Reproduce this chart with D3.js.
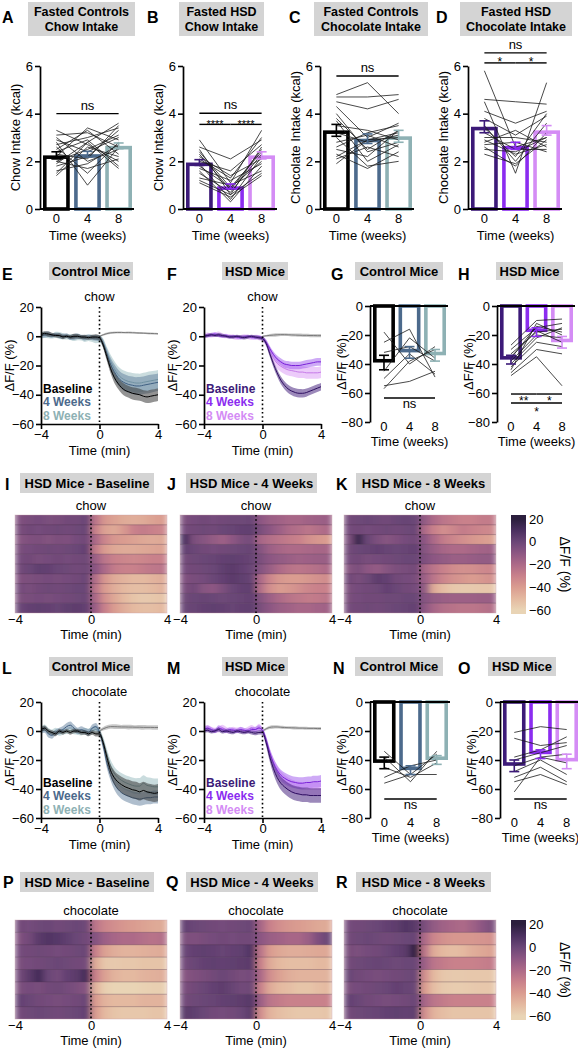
<!DOCTYPE html>
<html><head><meta charset="utf-8">
<script src="https://cdn.jsdelivr.net/npm/d3@7"></script>
<style>
body{margin:0;background:#fff;}
svg{font-family:"Liberation Sans",Arial,Helvetica,sans-serif;display:block;}
</style></head><body>
<svg id="fig" width="578" height="1050"></svg>
<script>
// ---------------- DATA ----------------
const weeks = ['0','4','8'];
const ctrlColors = ['#000000','#4c6a8c','#8eb1b4'];
const hsdColors = ['#3c1a78','#8b2cf0','#d48cf5'];

// A-D intake (kcal)
const aMeans = [2.25,2.3,2.65], aSems = [0.15,0.12,0.12];
const aMice = [[2.0,2.5,3.1],[2.5,3.3,2.3],[3.3,2.7,2.0],[1.5,2.8,3.6],[2.8,1.0,2.6],[2.2,3.4,2.9],[1.8,2.2,3.3],[3.0,2.0,2.5],[2.4,2.9,1.8],[1.6,1.9,2.7],[2.7,3.0,3.4],[2.0,1.7,2.1],[2.9,2.4,3.0],[1.4,2.6,2.2],[2.6,1.5,2.8],[3.1,3.2,2.6],[2.3,2.1,3.5],[1.9,2.8,1.7]];
const bMeans = [1.95,0.95,2.25], bSems = [0.12,0.1,0.15];
const bMice = [[2.9,1.1,3.3],[2.6,2.1,2.9],[2.5,0.6,2.6],[2.3,0.8,2.5],[2.1,1.3,3.0],[1.9,0.4,2.2],[1.8,0.9,2.0],[1.6,0.3,1.8],[1.5,0.7,2.3],[1.3,1.0,1.6],[1.1,0.5,1.4],[2.0,1.6,2.7],[1.7,1.2,1.9],[2.4,0.9,2.4],[1.2,0.6,1.5],[2.2,1.4,2.1]];
const cMeans = [3.3,2.95,3.05], cSems = [0.25,0.2,0.25];
const cMice = [[4.8,5.3,4.0],[4.7,4.7,4.8],[4.5,4.2,4.6],[4.3,3.0,3.6],[3.8,2.5,3.3],[3.5,3.3,2.9],[3.2,2.8,3.1],[3.0,1.8,2.0],[2.8,3.1,2.6],[2.5,2.2,3.3],[2.3,1.7,2.4],[2.1,2.6,2.2],[1.9,2.9,3.0],[3.7,2.0,2.7],[2.6,3.2,3.5],[4.0,2.4,2.8],[2.2,2.9,3.2]];
const dMeans = [3.45,2.65,3.3], dSems = [0.25,0.15,0.2];
const dMice = [[5.8,2.6,3.0],[4.6,4.5,4.4],[4.5,1.5,5.3],[4.1,3.6,4.1],[3.8,3.1,3.9],[3.5,2.0,3.6],[3.2,2.5,2.5],[3.0,3.0,2.8],[2.9,2.3,2.7],[2.7,2.8,2.4],[2.6,1.8,3.2],[2.5,2.4,3.0],[2.8,3.3,2.6],[3.4,2.2,4.0],[2.3,1.9,2.9]];
const intakeTicks = [0,2,4,6];

// G,H,N,O peak dF/F (%)
const gMeans = [-39,-32,-34], gSems = [5,4,4];
const gMice = [[-18,-40,-28],[-25,-16,-49],[-32,-28,-38],[-45,-22,-36],[-50,-33,-47],[-55,-52,-45],[-57,-38,-30]];
const hMeans = [-37,-18,-25], hSems = [3,3,4];
const hMice = [[-27,-10,-9],[-30,-15,-12],[-33,-18,-16],[-36,-14,-18],[-38,-20,-22],[-40,-22,-15],[-42,-25,-28],[-44,-12,-20],[-46,-30,-33],[-48,-35,-55],[-35,-17,-25]];
const nMeans = [-42,-47,-40], nSems = [4,3,3];
const nMice = [[-34,-50,-36],[-38,-55,-34],[-52,-44,-40],[-56,-50,-50],[-45,-52,-42]];
const oMeans = [-44,-36,-41], oSems = [4,3,5];
const oMice = [[-21,-17,-19],[-25,-30,-28],[-38,-33,-24],[-44,-38,-36],[-48,-40,-50],[-52,-45,-55],[-55,-50,-57],[-62,-38,-42],[-40,-35,-30]];
const dffTicks = [-80,-60,-40,-20,0];

// E,F,L,M time courses (min, dF/F %)
const T = [-4,-3.75,-3.5,-3.25,-3,-2.75,-2.5,-2.25,-2,-1.75,-1.5,-1.25,-1,-0.75,-0.5,-0.25,0,0.25,0.5,0.75,1,1.25,1.5,1.75,2,2.25,2.5,2.75,3,3.25,3.5,3.75,4];
const Tpost = [0,0.25,0.5,0.75,1,1.25,1.5,1.75,2,2.25,2.5,2.75,3,3.25,3.5,3.75,4];
const eBase = [1,2,1.5,1,0.5,0.5,-0.5,0,-0.5,0,0,-0.5,-0.5,-1,-0.5,-0.5,-1,-6,-14,-22,-28,-32,-35,-37,-38,-39,-39.5,-40,-41,-41.5,-41,-40.5,-40];
const eBaseS = [1.2,1.5,1.8,1.4,1.3,1.6,1.5,1.2,1.4,1.7,1.5,1.3,1.6,1.4,1.5,1.8,1.6,2.2,2.8,3.2,3.6,3.8,4,4.1,4,4.2,4.3,4.1,4,4.2,4.4,4.3,4.2];
const e4 = [0.5,1,1.5,0.5,1,0.5,0,0.5,-1,-0.5,0,-0.5,-1,-0.5,-1,-1,-1.5,-5,-12,-19,-24,-28,-30.5,-32,-33,-33.5,-34,-34,-33.5,-33,-32.5,-32,-31.5];
const e4S = [1.5,1.8,2,1.6,1.4,1.8,1.7,1.5,1.6,2,1.8,1.5,1.9,1.7,1.8,2.1,2,2.8,3.6,4.4,5,5.4,5.6,5.8,5.8,6,6,6.1,6,6.2,6.1,6,6];
const e8 = [0.5,1,0.5,0,1,0.5,0,-0.5,-0.5,-1,-0.5,-1,-1.5,-1,-1.5,-2,-2,-4.5,-11,-17,-22,-26,-28.5,-30,-31,-31.5,-32,-32,-31.5,-31,-30.5,-30,-29.5];
const e8S = [2,2.2,1.8,1.6,2,2.4,2.1,1.8,2,2.3,2.2,1.9,2.4,2.2,2.5,2.8,2.5,3,3.8,4.5,5.2,5.6,6,6.2,6.3,6.4,6.5,6.4,6.5,6.6,6.5,6.4,6.5];
const eGray = [0,1,1.8,2.3,2.5,2.6,2.6,2.5,2.5,2.4,2.3,2.2,2.1,2,1.9,1.8,1.7];
const eGrayS = [0.5,0.6,0.7,0.7,0.8,0.7,0.7,0.6,0.7,0.6,0.6,0.7,0.6,0.6,0.7,0.6,0.6];

const fBase = [0,0.5,1,0.5,1,0.5,0,-0.5,-0.5,0,-0.5,-1,-0.5,0,-0.5,-1,-1.5,-5,-12,-19,-25,-30,-33.5,-36,-37.5,-38.5,-39,-39,-38.5,-37.5,-36.5,-35.5,-34.5];
const fBaseS = [1,1.2,1.1,1,1.3,1.2,1,1.1,1.2,1,1.1,1.3,1.2,1,1.1,1.2,1.3,1.6,2,2.3,2.5,2.6,2.7,2.8,2.8,2.9,2.9,2.8,2.8,2.7,2.7,2.6,2.6];
const f4 = [0,0.5,1,1.5,0.5,0,0.5,-0.5,0,-0.5,-1,-0.5,0,-0.5,-1,-0.5,-1.5,-4,-8.5,-12.5,-15.5,-17.5,-19,-19.5,-20,-20,-20,-19.5,-19,-18.5,-18,-17.5,-17.5];
const f4S = [1,1.2,1.4,1.3,1.1,1,1.2,1.1,1,1.2,1.3,1.1,1,1.2,1.3,1.2,1.3,1.6,1.9,2.1,2.3,2.4,2.5,2.5,2.6,2.6,2.6,2.6,2.7,2.6,2.6,2.6,2.6];
const f8 = [0.5,1,0.5,1,1.5,0.5,0,0,-0.5,-1,-0.5,0,-0.5,-1,-0.5,-1,-2,-4.5,-10,-15,-18.5,-20.5,-22,-23,-23.5,-24,-24.5,-24.5,-25,-25,-25,-25,-24.5];
const f8S = [1.5,1.6,1.4,1.5,1.7,1.5,1.4,1.3,1.5,1.6,1.4,1.3,1.5,1.6,1.5,1.7,1.8,2.2,2.8,3.2,3.5,3.7,3.8,3.9,3.9,4,4,4,4,4,4,4,4];
const fGray = [0,0.3,0.6,0.8,1,1.1,1.1,1,0.9,0.8,0.7,0.6,0.6,0.5,0.5,0.4,0.4];
const fGrayS = [0.3,0.6,0.9,1.1,1.1,1,0.9,0.9,1,1,1.1,1.1,1.1,1.1,1.1,1.1,1.1];

const lBase = [1,2,0,-1,-2,0,-1,0,-1,0,0,-1,-1,-2,-1,-2,-2,-8,-18,-27,-32,-35,-37,-38.5,-39.5,-40.5,-41,-42,-41,-42,-42.5,-43,-42.5];
const lBaseS = [1.5,1.8,1.6,1.5,1.7,1.6,1.5,1.4,1.6,1.5,1.4,1.6,1.5,1.7,1.6,1.8,1.8,2.5,3.5,4.2,4.8,5.2,5.5,5.6,5.8,5.9,6,6,6,6,6,6,6];
const l4 = [0,1,-2,-3,-1,0,1,3,4,2,0,1,0,-1,2,3,-1,-10,-22,-30,-36,-40,-42.5,-44,-45,-46,-46.5,-47,-46.5,-46,-46,-45.5,-45.5];
const l4S = [2,2.2,2.5,2.3,2,2.2,2.4,2.5,2.6,2.4,2.2,2.3,2.2,2.3,2.5,2.6,2.4,3,3.6,4,4.2,4.3,4.4,4.4,4.5,4.5,4.5,4.5,4.5,4.5,4.5,4.5,4.5];
const l8 = [1,2,0,-1,0,-1,-0.5,0,0.5,0,-0.5,-1,0,-0.5,0,1,-1,-7,-16,-24,-29,-32,-34,-35.5,-36.5,-37.5,-38,-38,-36,-37.5,-38,-38.5,-38.5];
const l8S = [2,2.4,2.1,2,2.2,2.3,2,2.1,2.3,2.2,2,2.1,2.3,2.2,2.4,2.6,2.4,3,3.8,4.3,4.6,4.8,5,5.2,5.3,5.4,5.5,5.6,5.5,5.6,5.7,5.7,5.7];
const lGray = [0,1.5,2.5,3,3,2.9,2.8,2.8,2.7,2.7,2.6,2.6,2.5,2.5,2.5,2.4,2.4];
const lGrayS = [1,1.2,1.4,1.5,1.6,1.5,1.4,1.5,1.6,1.5,1.4,1.5,1.6,1.5,1.4,1.5,1.5];

const mBase = [0,0.5,-0.5,0,1,-0.5,0,-0.5,-1,0,-0.5,-1,-0.5,-1,-1.5,-1,-1,-8,-18,-26,-32,-36,-38.5,-40.5,-42,-43,-43.5,-44,-44,-44.5,-44.5,-44.5,-44.5];
const mBaseS = [1.2,1.4,1.3,1.2,1.5,1.3,1.2,1.4,1.3,1.2,1.4,1.3,1.2,1.4,1.5,1.4,1.5,2.5,3.2,3.8,4.2,4.5,4.7,4.8,4.9,5,5,5,5,5,5,5,5];
const m4 = [1,2,1,0,2,1,0,1,0.5,0,1,0.5,0,1,1,2,0.5,-6,-15,-22,-27,-30.5,-32.5,-34,-35,-35.5,-36,-36,-35.5,-35.5,-35,-35,-34.5];
const m4S = [1.5,1.8,1.6,1.5,1.9,1.7,1.5,1.6,1.5,1.6,1.7,1.6,1.5,1.7,1.8,2,1.8,2.4,3,3.4,3.6,3.8,3.9,4,4,4,4.1,4.1,4,4.1,4.2,4.2,4.2];
const m8 = [1.5,2,1,0.5,1,2,1,0,1,0.5,1,0,1,2,1,2.5,0,-7,-16,-23,-28,-32,-34.5,-36.5,-38,-39,-39.5,-40,-40,-40,-40,-40,-40];
const m8S = [2,2.2,2,1.8,2,2.3,2,1.8,2,1.9,2,1.8,2,2.2,2,2.5,2.2,2.8,3.4,3.8,4,4.2,4.3,4.4,4.5,4.5,4.5,4.5,4.5,4.5,4.5,4.5,4.5];
const mGray = [0,1.5,2.5,2.8,2.8,2.6,2.4,2.3,2.2,2.1,2,2,1.9,1.8,1.8,1.7,1.7];
const mGrayS = [0.8,1,1.2,1.2,1.1,1,1.1,1,1,1.1,1,1,1.1,1,1,1,1];

// Heatmaps: column start times (0.5 min bins), rows = mice
const hmTimes = [-4,-3.5,-3,-2.5,-2,-1.5,-1,-0.5,0,0.5,1,1.5,2,2.5,3,3.5];
const hmI = [
 [-6,-4,-3,-5,-4,-2,-2,0,-25,-38,-42,-45,-46,-45,-42,-40],
 [-4,-2,-3,-2,-1,-2,-1,0,-30,-42,-44,-38,-30,-28,-30,-32],
 [-8,-6,-5,-7,-5,-6,-3,-2,-20,-32,-38,-40,-42,-44,-45,-44],
 [-4,-3,-2,-1,-2,-1,0,2,-28,-40,-44,-45,-45,-44,-43,-42],
 [-3,-2,-4,-3,-2,-3,-2,-1,-15,-25,-30,-32,-33,-32,-30,-30],
 [-2,0,3,2,0,-1,-2,-1,-10,-20,-28,-30,-30,-28,-26,-25],
 [-6,-5,-4,-3,-4,-3,-2,0,-22,-38,-45,-48,-50,-50,-48,-46],
 [-3,-4,-2,-1,-2,-1,0,0,-25,-40,-46,-50,-52,-52,-50,-48],
 [-5,-4,-3,-4,-3,-2,-1,0,-20,-36,-44,-50,-54,-56,-55,-54],
 [0,2,3,2,1,3,4,2,-15,-30,-40,-46,-50,-52,-52,-50]];
const hmJ = [
 [-5,-3,-2,-3,-2,-1,-1,0,-10,-14,-16,-18,-18,-16,-15,-14],
 [-3,-2,-1,-2,0,1,2,3,-5,-10,-15,-20,-22,-25,-22,-20],
 [10,-5,-8,-12,-15,-10,-5,-3,-18,-22,-25,-28,-30,-35,-38,-40],
 [2,0,-2,-3,-2,-1,0,1,-8,-15,-18,-20,-20,-19,-18,-18],
 [-2,-1,0,1,2,3,2,1,-5,-10,-12,-14,-16,-15,-14,-14],
 [-3,-2,-1,0,3,5,2,0,-8,-14,-20,-24,-25,-24,-22,-20],
 [-6,-4,-3,0,2,5,3,1,-20,-32,-38,-40,-40,-38,-36,-34],
 [-4,-2,-8,-10,-5,0,2,3,-22,-35,-40,-38,-35,-32,-30,-30],
 [-1,0,1,0,-1,0,1,2,-8,-15,-20,-24,-26,-28,-27,-25],
 [0,1,2,3,2,1,2,3,-5,-10,-14,-16,-18,-18,-17,-16]];
const hmK = [
 [-2,-1,0,-1,-2,0,1,0,-12,-20,-25,-28,-30,-30,-28,-28],
 [-3,-2,-3,-2,-1,-2,-1,0,-20,-30,-35,-32,-28,-30,-32,-33],
 [-5,15,0,-5,-8,-6,-3,-2,-10,-20,-28,-32,-35,-38,-40,-42],
 [-2,0,1,2,1,0,1,2,-8,-14,-18,-20,-20,-18,-17,-16],
 [-3,-2,-4,-3,-2,-1,0,0,-6,-10,-12,-14,-14,-13,-12,-12],
 [-8,-5,-10,-12,-8,-5,-4,-2,-18,-25,-30,-34,-36,-35,-33,-32],
 [-2,-4,-1,4,2,-2,-3,-4,-15,-25,-32,-36,-38,-40,-38,-36],
 [-5,-3,-2,-1,2,0,-2,-3,-12,-45,-52,-55,-56,-56,-55,-55],
 [-4,-3,-2,-2,-1,-1,0,0,-8,-12,-14,-15,-15,-15,-14,-14],
 [-3,-2,-1,-2,-1,0,1,2,-10,-18,-22,-24,-25,-25,-24,-22]];
const hmP = [
 [-2,-3,-1,0,-2,-1,0,-1,-25,-32,-35,-38,-40,-42,-44,-45],
 [-6,-2,5,8,6,3,0,-2,-8,-15,-18,-20,-20,-22,-24,-22],
 [-3,-2,-1,-2,-3,-2,-1,0,-30,-42,-46,-48,-48,-47,-46,-45],
 [-4,-3,-2,-1,0,-1,-2,-3,-45,-55,-56,-55,-55,-54,-54,-54],
 [-2,5,12,0,-3,2,5,12,-30,-42,-48,-50,-50,-48,-47,-46],
 [-5,-3,-4,-2,-1,-3,-5,-8,-48,-58,-60,-60,-60,-59,-58,-58],
 [2,0,-2,-3,-4,-3,-2,0,-40,-48,-50,-50,-50,-48,-48,-48],
 [-2,-1,0,-1,-2,-1,0,2,-40,-50,-54,-55,-55,-55,-54,-54]];
const hmQ = [
 [2,0,-1,-2,-3,-2,-1,0,-18,-30,-35,-38,-40,-42,-44,-45],
 [-5,-6,-4,-3,-2,-3,-2,-2,-10,-14,-16,-18,-18,-14,-6,0],
 [0,2,3,2,1,2,3,8,-25,-40,-44,-46,-46,-45,-44,-44],
 [-2,0,2,3,2,3,4,5,-30,-45,-50,-52,-52,-52,-50,-50],
 [-8,-6,-4,-2,0,-2,-4,-3,-20,-35,-42,-46,-48,-48,-48,-48],
 [-4,-2,0,2,4,1,-2,-1,-30,-45,-50,-52,-54,-54,-52,-50],
 [-2,-1,0,1,2,3,4,6,-15,-25,-28,-30,-30,-30,-30,-30],
 [5,3,0,-2,-3,-2,0,5,-35,-48,-52,-54,-55,-55,-55,-54]];
const hmR = [
 [-3,-2,-1,0,2,4,8,5,-5,-12,-16,-18,-20,-16,-10,-5],
 [-2,-1,0,-1,-2,-1,0,1,-20,-32,-36,-38,-38,-38,-37,-36],
 [-4,-5,-3,-2,0,2,5,20,-25,-45,-50,-52,-50,-46,-44,-42],
 [-2,-1,0,1,0,-1,0,0,-15,-25,-28,-30,-30,-30,-29,-28],
 [0,-2,-3,-4,-3,-2,-1,0,-35,-50,-55,-56,-56,-55,-55,-55],
 [-4,-3,-2,-1,0,2,1,0,-40,-52,-56,-57,-57,-56,-55,-55],
 [2,0,-2,-3,-4,-3,-2,0,-18,-25,-28,-30,-30,-30,-30,-30],
 [-2,-1,0,1,2,3,2,3,-35,-48,-52,-54,-54,-54,-54,-54]];
const cmapVals = [20,10,0,-10,-20,-30,-40,-50,-60];
const cmapCols = ['#2b1e3d','#4a2f5f','#6b4677','#8d5783','#ad6a88','#c9818b','#da9c90','#e4b9a0','#e9d4b5'];
const cbTicks = [20,0,-20,-40,-60];

// ---------------- DRAWING ----------------
const FONT = '"Liberation Sans", Arial, Helvetica, sans-serif';
const FS = 13;
const svg = d3.select('#fig');
const defs = svg.append('defs');
const fmt = d3.format('d');

function txt(x, y, s, o = {}) {
  return svg.append('text').attr('x', x).attr('y', y).text(s)
    .attr('font-size', o.size || FS).attr('font-weight', o.bold ? 'bold' : 'normal')
    .attr('text-anchor', o.anchor || 'start').attr('fill', o.fill || '#000');
}
function letter(x, y, s) { txt(x, y, s, {size: 16, bold: true}); }
function titleBox(x0, x1, y0, y1, lines, size) {
  svg.append('rect').attr('x', x0).attr('y', y0).attr('width', x1 - x0).attr('height', y1 - y0).attr('fill', '#d4d4d4');
  const cx = (x0 + x1) / 2, cy = (y0 + y1) / 2, n = lines.length, lh = size * 1.18;
  lines.forEach((l, i) => txt(cx, cy + (i - (n - 1) / 2) * lh + size * 0.36, l, {size, bold: true, anchor: 'middle'}));
}
function rotLabel(x, cy, s, rot = -90, size = FS) {
  svg.append('text').attr('transform', `translate(${x},${cy}) rotate(${rot})`)
    .attr('text-anchor', 'middle').attr('dy', '0.35em').attr('font-size', size).text(s);
}
function styleAxis(g, size = FS) {
  g.attr('font-family', FONT).attr('font-size', size);
  g.selectAll('.domain').attr('stroke', '#000').attr('stroke-width', 1.7);
  g.selectAll('.tick line').attr('stroke', '#000').attr('stroke-width', 1.6);
  g.selectAll('.tick text').attr('fill', '#000');
}

function barPanel(o) {
  const y = d3.scaleLinear().domain(o.domain).range(o.yRange);
  const x = d3.scaleBand().domain(weeks).range([o.x0 + 3, o.x0 + o.w]).paddingInner(0.14);
  const g = svg.append('g');
  const sw = 3.6, bw = x.bandwidth(), cx = i => x(weeks[i]) + bw / 2;
  g.selectAll('rect.bar').data(o.means).join('rect').attr('class', 'bar')
    .attr('x', (d, i) => x(weeks[i]) + sw / 2).attr('width', bw - sw)
    .attr('y', d => d >= 0 ? y(d) + sw / 2 : y(0))
    .attr('height', d => Math.abs(y(d) - y(0)) - sw / 2)
    .attr('fill', 'none').attr('stroke', (d, i) => o.colors[i]).attr('stroke-width', sw);
  const line = d3.line().x((d, i) => cx(i)).y(d => y(d));
  g.selectAll('path.mouse').data(o.mice).join('path').attr('class', 'mouse')
    .attr('d', line).attr('fill', 'none').attr('stroke', '#1a1a1a').attr('stroke-width', 0.8);
  o.means.forEach((m, i) => {
    const s = o.sems[i], c = o.colors[i];
    g.append('line').attr('x1', cx(i)).attr('x2', cx(i)).attr('y1', y(m - s)).attr('y2', y(m + s)).attr('stroke', c).attr('stroke-width', 1.6);
    [m - s, m + s].forEach(v => g.append('line').attr('x1', cx(i) - 5).attr('x2', cx(i) + 5).attr('y1', y(v)).attr('y2', y(v)).attr('stroke', c).attr('stroke-width', 1.6));
  });
  const ya = g.append('g').attr('transform', `translate(${o.x0},0)`)
    .call(d3.axisLeft(y).tickValues(o.ticks).tickFormat(fmt).tickSize(5).tickSizeOuter(0).tickPadding(2));
  styleAxis(ya);
  g.append('line').attr('x1', o.x0).attr('x2', o.x0 + o.w + 2).attr('y1', y(0)).attr('y2', y(0)).attr('stroke', '#000').attr('stroke-width', 1.8);
  const xa = g.append('g').attr('transform', `translate(0,${o.xlabY})`).call(d3.axisBottom(x).tickSize(0).tickPadding(0));
  xa.select('.domain').remove(); styleAxis(xa);
  txt(o.x0 + 3 + (o.w - 3) / 2, o.titleY, 'Time (weeks)', {anchor: 'middle'});
  rotLabel(o.ylabX, (o.yRange[0] + o.yRange[1]) / 2, o.ylab);
  (o.sig || []).forEach(s => {
    g.append('line').attr('x1', cx(s.i)).attr('x2', cx(s.j)).attr('y1', y(s.v)).attr('y2', y(s.v)).attr('stroke', '#000').attr('stroke-width', 1.4);
    txt((cx(s.i) + cx(s.j)) / 2, y(s.v) + s.dy, s.t, {anchor: 'middle', size: s.size || FS});
  });
}

function linePanel(o) {
  const x = d3.scaleLinear().domain([-4, 4]).range([o.x0, o.x0 + 117]);
  const y = d3.scaleLinear().domain([-60, 20]).range([o.yb, o.yt]);
  const g = svg.append('g');
  const draw = (ts, m, s, lineCol, fillCol, op, lw) => {
    const d = ts.map((t, i) => ({t, m: m[i], s: s[i]}));
    g.append('path').datum(d).attr('fill', fillCol).attr('fill-opacity', op)
      .attr('d', d3.area().x(p => x(p.t)).y0(p => y(p.m - p.s)).y1(p => y(p.m + p.s)).curve(d3.curveMonotoneX));
    g.append('path').datum(d).attr('fill', 'none').attr('stroke', lineCol).attr('stroke-width', lw || 1)
      .attr('d', d3.line().x(p => x(p.t)).y(p => y(p.m)).curve(d3.curveMonotoneX));
  };
  draw(Tpost, o.gray, o.grayS, '#7a7a7a', '#9a9a9a', 0.55, 1);
  o.series.forEach(s => draw(T, s.m, s.s, s.line, s.fill, s.op));
  g.append('line').attr('x1', x(0)).attr('x2', x(0)).attr('y1', y(20)).attr('y2', y(-60))
    .attr('stroke', '#000').attr('stroke-width', 1.6).attr('stroke-dasharray', '1.6,2.6');
  txt(x(0), y(20) - 6, o.label, {anchor: 'middle'});
  const ya = g.append('g').attr('transform', `translate(${o.x0},0)`)
    .call(d3.axisLeft(y).tickValues([-60, -40, -20, 0, 20]).tickFormat(fmt).tickSize(5).tickSizeOuter(0).tickPadding(2));
  styleAxis(ya);
  const xa = g.append('g').attr('transform', `translate(0,${o.yb})`)
    .call(d3.axisBottom(x).tickValues([-4, 0, 4]).tickFormat(fmt).tickSize(5).tickSizeOuter(0).tickPadding(1));
  styleAxis(xa);
  txt(x(0), o.yb + 31, 'Time (min)', {anchor: 'middle'});
  rotLabel(o.ylabX, (o.yb + o.yt) / 2, '\u0394F/F (%)');
  o.legend.forEach((l, i) => txt(o.x0 + 2, o.yb + [-31, -17.6, -4.2][i], l, {bold: true, size: 12, fill: o.legCols[i]}));
}

const cmap = d3.scaleLinear().domain(cmapVals).range(cmapCols).interpolate(d3.interpolateRgb).clamp(true);

function heatmap(o, id) {
  const x = d3.scaleLinear().domain([-4, 4]).range([o.x0, o.x1]);
  const y = d3.scaleBand().domain(d3.range(o.rows.length)).range([o.y0, o.y1]);
  const f = defs.append('filter').attr('id', id).attr('filterUnits', 'userSpaceOnUse')
    .attr('x', o.x0).attr('y', o.y0).attr('width', o.x1 - o.x0).attr('height', o.y1 - o.y0);
  f.append('feGaussianBlur').attr('stdDeviation', '3.4 0').attr('edgeMode', 'duplicate');
  const cells = o.rows.flatMap((r, ri) => r.map((v, ci) => ({ri, ci, v})));
  const g = svg.append('g').attr('filter', `url(#${id})`);
  g.selectAll('rect').data(cells).join('rect')
    .attr('x', d => x(hmTimes[d.ci])).attr('width', d => x(hmTimes[d.ci] + 0.5) - x(hmTimes[d.ci]) + 0.6)
    .attr('y', d => y(d.ri)).attr('height', y.bandwidth() + 0.4)
    .attr('fill', d => cmap(d.v));
  const g2 = svg.append('g');
  d3.range(1, o.rows.length).forEach(ri => g2.append('line').attr('x1', o.x0).attr('x2', o.x1)
    .attr('y1', y(ri)).attr('y2', y(ri)).attr('stroke', 'rgba(70,45,70,0.45)').attr('stroke-width', 0.7));
  g2.append('rect').attr('x', o.x0).attr('y', o.y0).attr('width', o.x1 - o.x0).attr('height', o.y1 - o.y0)
    .attr('fill', 'none').attr('stroke', 'rgba(200,160,170,0.6)').attr('stroke-width', 0.6);
  g2.append('line').attr('x1', x(0)).attr('x2', x(0)).attr('y1', o.y0).attr('y2', o.y1)
    .attr('stroke', '#000').attr('stroke-width', 1.6).attr('stroke-dasharray', '1.6,2.6');
  txt(x(0), o.y0 - 5, o.label, {anchor: 'middle'});
  const xa = g2.append('g').attr('transform', `translate(0,${o.y1 + 2})`)
    .call(d3.axisBottom(x).tickValues([-4, 0, 4]).tickFormat(fmt).tickSize(0).tickPadding(0));
  xa.select('.domain').remove(); styleAxis(xa);
  txt(x(0), o.y1 + 26, 'Time (min)', {anchor: 'middle'});
}

function colorbar(o, id) {
  const y = d3.scaleLinear().domain([20, -60]).range([o.y20, o.ym60]);
  const top = o.y0, bot = o.y1, vTop = y.invert(top), vBot = y.invert(bot);
  const grad = defs.append('linearGradient').attr('id', id).attr('x1', 0).attr('x2', 0).attr('y1', 0).attr('y2', 1);
  [vTop].concat(cmapVals, [vBot]).forEach(v => grad.append('stop')
    .attr('offset', (vTop - v) / (vTop - vBot)).attr('stop-color', cmap(v)));
  svg.append('rect').attr('x', o.x).attr('y', top).attr('width', 15).attr('height', bot - top).attr('fill', `url(#${id})`);
  const ax = svg.append('g').attr('transform', `translate(${o.x + 15},0)`)
    .call(d3.axisRight(y).tickValues(cbTicks).tickFormat(fmt).tickSize(0).tickPadding(3));
  ax.select('.domain').remove(); styleAxis(ax, 13);
  rotLabel(565, (top + bot) / 2, '\u0394F/F (%)', 90, 14);
}

// ---- Row 1: A-D ----
letter(2, 23, 'A'); titleBox(28, 135, 2, 36, ['Fasted Controls', 'Chow Intake'], 12.5);
letter(147, 23, 'B'); titleBox(179, 264, 2, 36, ['Fasted HSD', 'Chow Intake'], 12.5);
letter(289, 23, 'C'); titleBox(314, 428, 2, 36, ['Fasted Controls', 'Chocolate Intake'], 12.5);
letter(436, 23, 'D'); titleBox(460, 572, 2, 36, ['Fasted HSD', 'Chocolate Intake'], 12.5);
const row1 = {domain: [0, 6], yRange: [209, 66], ticks: intakeTicks, w: 92, xlabY: 214, titleY: 240};
barPanel({...row1, x0: 40, means: aMeans, sems: aSems, mice: aMice, colors: ctrlColors, ylabX: 15, ylab: 'Chow Intake (kcal)',
  sig: [{i: 0, j: 2, v: 4, t: 'ns', dy: -4}]});
barPanel({...row1, x0: 183, means: bMeans, sems: bSems, mice: bMice, colors: hsdColors, ylabX: 158, ylab: 'Chow Intake (kcal)',
  sig: [{i: 0, j: 2, v: 4.02, t: 'ns', dy: -4}, {i: 0, j: 1, v: 3.55, t: '****', dy: 4, size: 11}, {i: 1, j: 2, v: 3.55, t: '****', dy: 4, size: 11}]});
barPanel({...row1, x0: 320, means: cMeans, sems: cSems, mice: cMice, colors: ctrlColors, ylabX: 295, ylab: 'Chocolate Intake (kcal)',
  sig: [{i: 0, j: 2, v: 5.58, t: 'ns', dy: -4}]});
barPanel({...row1, x0: 468, means: dMeans, sems: dSems, mice: dMice, colors: hsdColors, ylabX: 443, ylab: 'Chocolate Intake (kcal)',
  sig: [{i: 0, j: 2, v: 6.55, t: 'ns', dy: -4}, {i: 0, j: 1, v: 6.13, t: '*', dy: 3, size: 12}, {i: 1, j: 2, v: 6.13, t: '*', dy: 3, size: 12}]});

// ---- Row 2: E-H ----
letter(2, 280, 'E'); titleBox(49, 133, 262, 280, ['Control Mice'], 13);
letter(167, 280, 'F'); titleBox(222, 288, 262, 280, ['HSD Mice'], 13);
letter(331, 280, 'G'); titleBox(355, 443, 262, 280, ['Control Mice'], 13);
letter(458, 280, 'H'); titleBox(496, 563, 262, 280, ['HSD Mice'], 13);
linePanel({x0: 41, yt: 307, yb: 424, label: 'chow', ylabX: 9, gray: eGray, grayS: eGrayS,
  series: [{m: e8, s: e8S, line: '#7fa3a6', fill: '#9fc0c2', op: 0.55}, {m: e4, s: e4S, line: '#3f5f82', fill: '#5f7d9c', op: 0.5}, {m: eBase, s: eBaseS, line: '#000', fill: '#3a3a3a', op: 0.55}],
  legend: ['Baseline', '4 Weeks', '8 Weeks'], legCols: ctrlColors});
linePanel({x0: 204, yt: 307, yb: 424, label: 'chow', ylabX: 172, gray: fGray, grayS: fGrayS,
  series: [{m: f8, s: f8S, line: '#c57ae8', fill: '#dca0f5', op: 0.55}, {m: f4, s: f4S, line: '#7a22d8', fill: '#9d55ee', op: 0.5}, {m: fBase, s: fBaseS, line: '#2e0f60', fill: '#5a3a8c', op: 0.6}],
  legend: ['Baseline', '4 Weeks', '8 Weeks'], legCols: hsdColors});
const row2b = {domain: [-80, 0], yRange: [422, 306], ticks: dffTicks, w: 76, xlabY: 422, titleY: 446, ylab: '\u0394F/F (%)'};
barPanel({...row2b, x0: 370, means: gMeans, sems: gSems, mice: gMice, colors: ctrlColors, ylabX: 341,
  sig: [{i: 0, j: 2, v: -63.4, t: 'ns', dy: 10}]});
barPanel({...row2b, x0: 497, means: hMeans, sems: hSems, mice: hMice, colors: hsdColors, ylabX: 468,
  sig: [{i: 0, j: 1, v: -60.7, t: '**', dy: 11, size: 12}, {i: 1, j: 2, v: -60.7, t: '*', dy: 11, size: 12}, {i: 0, j: 2, v: -66.9, t: '*', dy: 13, size: 12}]});

// ---- Row 3: I-K ----
letter(5, 490, 'I'); titleBox(20, 154, 473, 493, ['HSD Mice - Baseline'], 13);
letter(167, 490, 'J'); titleBox(186, 317, 473, 493, ['HSD Mice - 4 Weeks'], 13);
letter(336, 490, 'K'); titleBox(356, 491, 473, 493, ['HSD Mice - 8 Weeks'], 13);
heatmap({x0: 15, x1: 167, y0: 515, y1: 613, rows: hmI, label: 'chow'}, 'hbI');
heatmap({x0: 180, x1: 332, y0: 515, y1: 613, rows: hmJ, label: 'chow'}, 'hbJ');
heatmap({x0: 344, x1: 496, y0: 515, y1: 613, rows: hmK, label: 'chow'}, 'hbK');
colorbar({x: 511, y0: 515, y1: 614, y20: 519, ym60: 610}, 'cb1');

// ---- Row 4: L-O ----
letter(2, 674, 'L'); titleBox(49, 133, 657, 676, ['Control Mice'], 13);
letter(167, 674, 'M'); titleBox(222, 288, 657, 676, ['HSD Mice'], 13);
letter(333, 674, 'N'); titleBox(355, 443, 657, 676, ['Control Mice'], 13);
letter(458, 674, 'O'); titleBox(488, 556, 657, 676, ['HSD Mice'], 13);
linePanel({x0: 41, yt: 702, yb: 818, label: 'chocolate', ylabX: 9, gray: lGray, grayS: lGrayS,
  series: [{m: l8, s: l8S, line: '#7fa3a6', fill: '#9fc0c2', op: 0.55}, {m: l4, s: l4S, line: '#3f5f82', fill: '#5f7d9c', op: 0.5}, {m: lBase, s: lBaseS, line: '#000', fill: '#3a3a3a', op: 0.55}],
  legend: ['Baseline', '4 Weeks', '8 Weeks'], legCols: ctrlColors});
linePanel({x0: 204, yt: 702, yb: 818, label: 'chocolate', ylabX: 172, gray: mGray, grayS: mGrayS,
  series: [{m: m8, s: m8S, line: '#c57ae8', fill: '#dca0f5', op: 0.55}, {m: m4, s: m4S, line: '#7a22d8', fill: '#9d55ee', op: 0.5}, {m: mBase, s: mBaseS, line: '#2e0f60', fill: '#5a3a8c', op: 0.6}],
  legend: ['Baseline', '4 Weeks', '8 Weeks'], legCols: hsdColors});
const row4b = {domain: [-80, 0], yRange: [818, 702], ticks: dffTicks, w: 78, xlabY: 818, titleY: 842, ylab: '\u0394F/F (%)'};
barPanel({...row4b, x0: 370, means: nMeans, sems: nSems, mice: nMice, colors: ctrlColors, ylabX: 341,
  sig: [{i: 0, j: 2, v: -66.9, t: 'ns', dy: 10}]});
barPanel({...row4b, x0: 500, means: oMeans, sems: oSems, mice: oMice, colors: hsdColors, ylabX: 471,
  sig: [{i: 0, j: 2, v: -66.9, t: 'ns', dy: 10}]});

// ---- Row 5: P-R ----
letter(3, 888, 'P'); titleBox(20, 154, 872, 892, ['HSD Mice - Baseline'], 13);
letter(166, 888, 'Q'); titleBox(186, 318, 872, 892, ['HSD Mice - 4 Weeks'], 13);
letter(336, 888, 'R'); titleBox(356, 491, 872, 892, ['HSD Mice - 8 Weeks'], 13);
heatmap({x0: 15, x1: 167, y0: 920, y1: 1019, rows: hmP, label: 'chocolate'}, 'hbP');
heatmap({x0: 180, x1: 332, y0: 920, y1: 1019, rows: hmQ, label: 'chocolate'}, 'hbQ');
heatmap({x0: 344, x1: 496, y0: 920, y1: 1019, rows: hmR, label: 'chocolate'}, 'hbR');
colorbar({x: 511, y0: 920, y1: 1020, y20: 924, ym60: 1016}, 'cb2');
</script></body></html>
